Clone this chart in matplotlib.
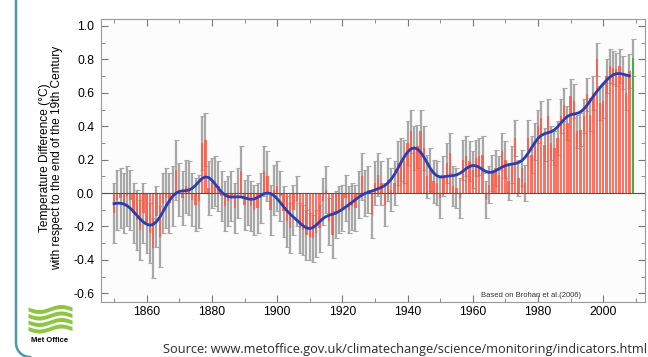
import numpy as np
import matplotlib.pyplot as plt

# annual anomalies, 1850-2008 (deg C)
years = np.arange(1850, 2009)
anom = [-0.12, -0.04, -0.03, -0.06, -0.02, -0.04, -0.12, -0.16, -0.22, -0.12,
        -0.18, -0.24, -0.33, -0.14, -0.26, -0.06, -0.03, -0.06, -0.02, 0.14,
        0.02, -0.03, 0.04, 0.03, -0.04, -0.07, -0.05, 0.30, 0.32, 0.03,
        0.06, 0.07, 0.04, -0.02, -0.08, -0.05, -0.02, -0.09, 0.00, 0.13,
        -0.07, -0.04, -0.08, -0.10, -0.09, -0.03, 0.13, 0.10, -0.10, 0.02,
        0.04, -0.02, -0.11, -0.17, -0.21, -0.10, -0.05, -0.21, -0.22, -0.25,
        -0.26, -0.27, -0.24, -0.21, -0.05, 0.02, -0.17, -0.25, -0.13, -0.10,
        -0.09, -0.03, -0.10, -0.08, -0.09, -0.01, 0.10, 0.00, 0.02, -0.13,
        0.06, 0.11, 0.06, -0.07, 0.08, 0.02, 0.06, 0.18, 0.20, 0.19,
        0.30, 0.37, 0.27, 0.28, 0.37, 0.27, 0.10, 0.14, 0.07, 0.06,
        -0.03, 0.10, 0.18, 0.24, 0.04, 0.03, -0.03, 0.20, 0.22, 0.19,
        0.14, 0.21, 0.22, 0.23, -0.04, 0.05, 0.12, 0.15, 0.11, 0.25,
        0.20, 0.07, 0.17, 0.33, 0.09, 0.15, 0.06, 0.33, 0.23, 0.31,
        0.40, 0.45, 0.29, 0.46, 0.30, 0.27, 0.33, 0.46, 0.53, 0.42,
        0.58, 0.55, 0.37, 0.38, 0.46, 0.59, 0.47, 0.60, 0.80, 0.54,
        0.55, 0.70, 0.76, 0.75, 0.74, 0.76, 0.72, 0.60, 0.73]
# uncertainty half-width per decade (1850s ... 2000s)
decade_err = [0.18, 0.18, 0.16, 0.15, 0.15, 0.15, 0.14, 0.14,
              0.13, 0.13, 0.12, 0.11, 0.11, 0.10, 0.10, 0.10]
last_year = 2009
last_val = 0.81
last_err = 0.11

anom = np.array(anom)
err = np.repeat(decade_err, 10)[:len(years)]

# smoothed curve (gaussian filter of the annual values)
sig = 2.6
smooth = []
for y in years:
    w = np.exp(-0.5 * ((years - y) / sig) ** 2)
    smooth.append(np.sum(w * anom) / np.sum(w))

plt.rcParams['font.family'] = ['Liberation Sans', 'DejaVu Sans']

fig = plt.figure(figsize=(6.48, 3.57), dpi=100)
ax = fig.add_axes([101/648, 1-302/357, 544/648, 282.7/357])
ax.set_facecolor('#fcfcfc')

ax.errorbar(years, anom, yerr=err, fmt='none', ecolor='#a8a8a8', elinewidth=1.6,
            capsize=1.8, capthick=0.8, zorder=1)
ax.bar(years, anom, width=0.72, color='#ff5a48', alpha=0.85, lw=0, zorder=2)
ax.errorbar([last_year], [last_val], yerr=[last_err], fmt='none', ecolor='#a8a8a8',
            elinewidth=1.6, capsize=1.8, capthick=0.8, zorder=1)
ax.bar([last_year], [last_val], width=0.55, color='#3fb24a', zorder=2)
ax.axhline(0, color='#555555', lw=0.8, zorder=2.5)
ax.plot(years, smooth, color='#2a3eb1', lw=2, zorder=4)

ax.set_xlim(1846.0, 2012.8)
ax.set_ylim(-0.652, 1.04)
ax.set_xticks(np.arange(1860, 2001, 20))
ax.set_xticks(np.arange(1850, 2011, 10), minor=True)
ax.set_yticks(np.arange(-0.6, 1.01, 0.2))
ax.set_yticks(np.arange(-0.6, 1.01, 0.1), minor=True)
ax.set_yticklabels(['%.1f' % v for v in np.arange(-0.6, 1.01, 0.2)])
ax.tick_params(which='both', direction='in', top=True, right=True,
               labelsize=8.8, color='#777777')
ax.tick_params(which='major', length=5)
ax.tick_params(which='minor', length=3)
ax.tick_params(axis='x', pad=3)
ax.tick_params(axis='y', pad=5)
for s in ax.spines.values():
    s.set_color('#999999')
    s.set_linewidth(0.8)

ax.text(0.79, 0.012, 'Based on Brohan et al.(2006)', transform=ax.transAxes,
        fontsize=5.5, color='#333333', ha='center', va='bottom')

fig.text(45/648, 1-158/357, 'Temperature Difference (\u00b0C)', rotation=90,
         fontsize=8.6, ha='center', va='center')
fig.text(57/648, 1-158/357, 'with respect to the end of the 19th Century',
         rotation=90, fontsize=8.6, ha='center', va='center')

fig.text(163/648, 1-349/357,
         'Source: www.metoffice.gov.uk/climatechange/science/monitoring/indicators.html',
         fontsize=9.2, family=['Open Sans', 'DejaVu Sans'], color='#2b2b2b',
         ha='left', va='center')

# decoration layer: slide border and Met Office logo
deco = fig.add_axes([0, 0, 1, 1], zorder=-1)
deco.set_xlim(0, 648)
deco.set_ylim(357, 0)
deco.axis('off')
t = np.linspace(0, np.pi / 2, 20)
bx = np.concatenate([[16, 16], 16 + 14 * (1 - np.cos(t))])
by = np.concatenate([[0, 343], 343 + 14 * np.sin(t)])
deco.plot(bx, by, color='#4f97b0', lw=1.8)

xs = np.linspace(28, 72, 80)
for k in range(4):
    yc = 309 + k * 6.5 + 2.5 * np.sin((xs - 28) / 44 * 2 * np.pi)
    deco.fill_between(xs, yc - 2.0, yc + 2.0, color='#8dc63f', lw=0)
fig.text(50/648, 1-340/357, 'Met Office', fontsize=5.5, fontweight='bold',
         ha='center', va='center')

fig.savefig('out.png', dpi=100)
